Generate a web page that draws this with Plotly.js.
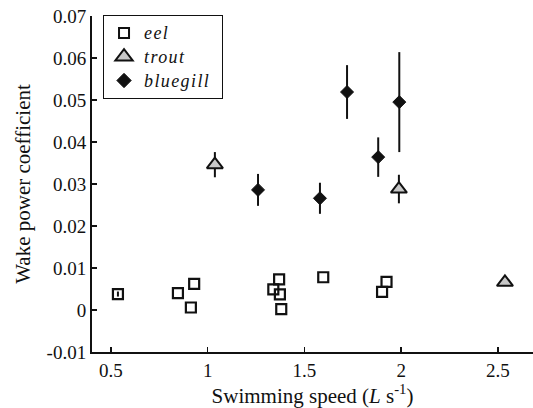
<!DOCTYPE html>
<html><head><meta charset="utf-8">
<script src="https://cdn.plot.ly/plotly-3.0.1.min.js"></script>
<style>html,body{margin:0;padding:0;background:#fff}#plot{width:533px;height:408px}
#plot .legendtext{letter-spacing:1.4px;font-size:18px !important}</style>
</head><body><div id="plot"></div>
<script>
const eelSpeed = [0.536, 0.846, 0.913, 0.93, 1.339, 1.369, 1.373, 1.38, 1.597, 1.924, 1.901];
const eelCoef  = [0.0038, 0.0040, 0.0006, 0.0062, 0.0049, 0.0073, 0.0037, 0.0002, 0.0078, 0.0067, 0.0043];
const eelErr   = [0.0006, 0, 0, 0, 0, 0, 0, 0, 0, 0, 0];

const troutSpeed = [1.037, 1.988, 2.536];
const troutCoef  = [0.0346, 0.0288, 0.0066];
const troutErr   = [0.003, 0.0034, 0.0006];

const blueSpeed = [1.26, 1.58, 1.72, 1.881, 1.99];
const blueCoef  = [0.0286, 0.0266, 0.0519, 0.0364, 0.0495];
const blueErr   = [0.0038, 0.0037, 0.0064, 0.0047, 0.0119];

const yTickVals = [-0.01, 0, 0.01, 0.02, 0.03, 0.04, 0.05, 0.06, 0.07];
const yTickText = ["-0.01", "0", "0.01", "0.02", "0.03", "0.04", "0.05", "0.06", "0.07"];
const xTickVals = [0.5, 1, 1.5, 2, 2.5];
const xTickText = ["0.5", "1", "1.5", "2", "2.5"];

const FONT = '"Liberation Serif", "Times New Roman", serif';
const err = arr => ({type: 'data', array: arr, visible: true, color: '#111', thickness: 2, width: 0});

const traces = [
  {x: blueSpeed, y: blueCoef, error_y: err(blueErr), mode: 'markers', type: 'scatter', name: 'bluegill',
   marker: {symbol: 'diamond', size: 10, color: '#111', line: {color: '#111', width: 1}}, showlegend: false},
  {x: troutSpeed, y: troutCoef, error_y: err(troutErr), mode: 'markers', type: 'scatter', name: 'trout',
   marker: {symbol: 'triangle-up', size: 14, color: '#c8c8c8', line: {color: '#111', width: 2}}, showlegend: false},
  {x: eelSpeed, y: eelCoef, error_y: err(eelErr), mode: 'markers', type: 'scatter', name: 'eel',
   marker: {symbol: 'square', size: 10, color: 'rgba(255,255,255,0)', line: {color: '#111', width: 2.2}}, showlegend: false},
  // legend entries
  {x: [null], y: [null], mode: 'markers', type: 'scatter', name: '<i>eel</i>',
   marker: {symbol: 'square', size: 10, color: '#fff', line: {color: '#111', width: 2}}},
  {x: [null], y: [null], mode: 'markers', type: 'scatter', name: '<i>trout</i>',
   marker: {symbol: 'triangle-up', size: 15, color: '#c8c8c8', line: {color: '#111', width: 2}}},
  {x: [null], y: [null], mode: 'markers', type: 'scatter', name: '<i>bluegill</i>&nbsp;&nbsp;&nbsp;&nbsp;&nbsp;&nbsp;',
   marker: {symbol: 'diamond', size: 11, color: '#111', line: {color: '#111', width: 1}}}
];

const layout = {
  width: 533, height: 408,
  margin: {l: 92, r: 0, t: 16, b: 56},
  paper_bgcolor: '#fff', plot_bgcolor: '#fff',
  font: {family: FONT, size: 19, color: '#111'},
  showlegend: true,
  legend: {x: 0.025, y: 1.003, xanchor: 'left', yanchor: 'top', bordercolor: '#111', borderwidth: 1,
           bgcolor: '#fff', font: {family: FONT, size: 16, color: '#111'}, traceorder: 'normal'},
  xaxis: {range: [0.402, 2.681], tickvals: xTickVals, ticktext: xTickText, ticks: 'inside', ticklen: 5, tickwidth: 1.5,
          tickcolor: '#111', showline: true, linecolor: '#111', linewidth: 2, showgrid: false, zeroline: false,
          tickfont: {family: FONT, size: 19},
          title: {text: 'Swimming speed (<i>L</i> s<sup>-1</sup>)', font: {family: FONT, size: 21}, standoff: 5}},
  yaxis: {range: [-0.01, 0.07], tickvals: yTickVals, ticktext: yTickText, ticks: 'inside', ticklen: 5, tickwidth: 1.5,
          tickcolor: '#111', showline: true, linecolor: '#111', linewidth: 2, showgrid: false, zeroline: false,
          tickfont: {family: FONT, size: 19},
          title: {text: 'Wake power coefficient', font: {family: FONT, size: 21}, standoff: 10}}
};

Plotly.newPlot('plot', traces, layout, {displayModeBar: false, staticPlot: true});
</script></body></html>
